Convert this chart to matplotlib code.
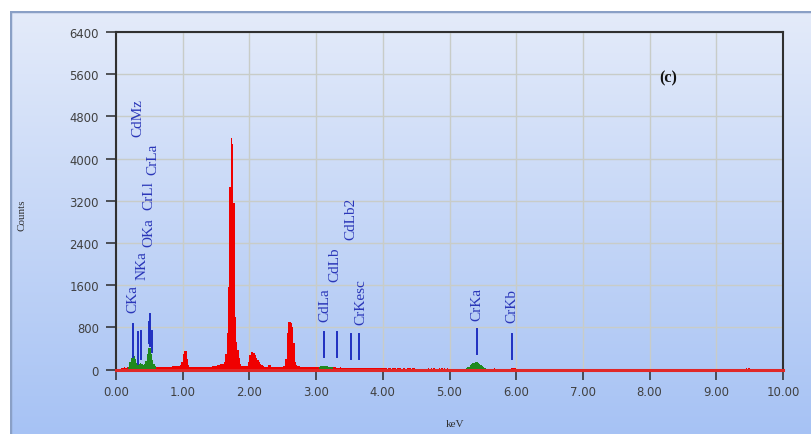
import numpy as np
import matplotlib
matplotlib.use('Agg')
import matplotlib.pyplot as plt
from matplotlib.patches import Rectangle

# EDS spectrum, 0.02 keV channels starting at 0.00 keV
channel_keV = 0.02
counts = [
    0, 0, 0, 0, 35, 40, 45, 40, 50, 60,               # 0.00
    150, 230, 280, 265, 200, 130, 110, 100, 130, 110,  # 0.20
    90, 100, 160, 300, 420, 410, 300, 180, 100, 70,    # 0.40
    50, 45, 45, 45, 45, 50, 45, 45, 50, 50,            # 0.60
    55, 60, 65, 65, 70, 70, 65, 70, 80, 150,           # 0.80
    300, 360, 350, 200, 90, 60, 55, 55, 55, 55,        # 1.00
    55, 55, 60, 55, 55, 60, 55, 55, 60, 60,            # 1.20
    60, 60, 65, 65, 70, 70, 80, 95, 100, 100,          # 1.40
    110, 140, 300, 700, 1560, 3460, 4390, 4270, 3150, 1000,  # 1.60
    520, 380, 220, 100, 75, 70, 70, 70, 75, 150,       # 1.80
    280, 330, 340, 310, 270, 230, 190, 150, 110, 80,   # 2.00
    70, 60, 55, 55, 90, 85, 55, 50, 50, 55,            # 2.20
    55, 55, 55, 60, 60, 65, 70, 200, 700, 900,         # 2.40
    910, 880, 800, 500, 150, 90, 70, 65, 60, 60,       # 2.60
    60, 55, 55, 60, 55, 50, 55, 50, 50, 55,            # 2.80
    55, 50, 55, 65, 70, 75, 75, 70, 65, 60,            # 3.00
    60, 55, 50, 45, 45, 40, 40, 40, 45, 40,            # 3.20
    40, 35, 40, 40, 35, 40, 40, 35, 40, 40,            # 3.40
    35, 40, 35, 40, 35, 35, 40, 35, 35, 40,            # 3.60
    35, 35, 40, 35, 30, 35, 40, 35, 30, 35,            # 3.80
    40, 30, 35, 0, 40, 35, 0, 30, 40, 35,              # 4.00
    0, 35, 30, 40, 0, 35, 30, 0, 40, 30,               # 4.20
    35, 0, 30, 40, 0, 0, 0, 0, 0, 0,                   # 4.40
    0, 0, 0, 0, 35, 0, 30, 0, 35, 0,                   # 4.60
    0, 0, 35, 0, 30, 0, 35, 0, 30, 0,                  # 4.80
    0, 0, 0, 0, 0, 0, 0, 0, 0, 0,                      # 5.00
    0, 0, 40, 50, 60, 80, 100, 120, 135, 140,          # 5.20
    140, 135, 115, 90, 70, 50, 40, 0, 0, 0,            # 5.40
    0, 0, 0, 25, 0, 0, 0, 0, 0, 0,                     # 5.60
    0, 0, 0, 0, 0, 0, 35, 40, 40, 35,                  # 5.80
]
tail_keV = [9.44, 9.48]
tail_counts = [30, 30]

# regions of interest shaded green
roi_lo = [0.18, 3.04, 5.24]
roi_hi = [0.60, 3.26, 5.54]

# peak identification markers
peak_names = ['CKa', 'CdMz', 'NKa', 'OKa', 'CrLl', 'CrLa',
              'CdLa', 'CdLb', 'CdLb2', 'CrKesc', 'CrKa', 'CrKb']
peak_keV = [0.26, 0.33, 0.38, 0.505, 0.49, 0.545,
            3.12, 3.32, 3.53, 3.65, 5.41, 5.94]
mark_lo = [240, 110, 200, 450, 500, 335, 235, 235, 200, 200, 300, 200]
mark_hi = [865, 714, 733, 1050, 900, 733, 710, 710, 680, 680, 770, 680]
label_keV = [0.26, 0.335, 0.385, 0.495, 0.495, 0.555,
             3.13, 3.28, 3.52, 3.67, 5.41, 5.94]
label_cnt = [1090, 4420, 1720, 2340, 3040, 3700,
             930, 1690, 2470, 865, 950, 900]

x_ticks = np.arange(0, 10.01, 1.0)
y_ticks = np.arange(0, 6401, 800)

W, H = 811, 435
fig = plt.figure(figsize=(W / 100, H / 100), dpi=100)
fig.patch.set_facecolor('white')

# panel background with vertical gradient; right and bottom edges run off the canvas
bg = fig.add_axes([10 / W, -4 / H, (W - 6) / W, (H - 8) / H])
grad = np.linspace(0, 1, 256)[:, None]
top_c = np.array([0xe4, 0xeb, 0xfa]) / 255
bot_c = np.array([0xa6, 0xc2, 0xf4]) / 255
img = top_c[None, None, :] * (1 - grad[:, :, None]) + bot_c[None, None, :] * grad[:, :, None]
bg.imshow(img, aspect='auto', extent=[0, 1, 0, 1], interpolation='bilinear')
bg.add_patch(Rectangle((0, 0), 1, 1, transform=bg.transAxes, fill=False,
                       edgecolor='#8aa0c6', linewidth=2.5, clip_on=True))
bg.set_xlim(0, 1)
bg.set_ylim(0, 1)
bg.axis('off')

ax = fig.add_axes([116 / W, (H - 370.7) / H, 667 / W, 337.7 / H])
ax.set_facecolor('none')

spec = np.zeros(500)
spec[:len(counts)] = counts
for e, c in zip(tail_keV, tail_counts):
    spec[int(round(e / channel_keV))] = c
edges = np.arange(len(spec) + 1) * channel_keV
starts = edges[:-1]
in_roi = np.zeros(len(spec), dtype=bool)
for lo, hi in zip(roi_lo, roi_hi):
    in_roi |= (starts + 1e-9 >= lo) & (starts + 1e-9 < hi)

ax.stairs(spec, edges, fill=True, color='#f00000', linewidth=0, zorder=3)
ax.stairs(np.where(in_roi, spec, 0), edges, fill=True, color='#1f8a1f',
          linewidth=0, zorder=3.5)

for e, lo, hi in zip(peak_keV, mark_lo, mark_hi):
    ax.plot([e, e], [lo, hi], color='#1f2fc0', linewidth=1.4, zorder=4)
for name, e, c in zip(peak_names, label_keV, label_cnt):
    ax.text(e, c, name, rotation=90, ha='center', va='bottom',
            color='#2a36b8', fontsize=11, family='Liberation Serif', zorder=5)

ax.text(8.28, 5540, '(c)', ha='center', va='center', fontsize=11.5,
        fontweight='bold', family='Liberation Serif', color='#111111')

ax.set_xlim(0, 10)
ax.set_ylim(0, 6400)
ax.set_xticks(x_ticks)
ax.set_yticks(y_ticks)
ax.set_xticklabels(['%.2f' % v for v in x_ticks])
ax.set_yticklabels(['%d' % v for v in y_ticks])
ax.grid(True, color='#c8ccc8', linewidth=1.0, zorder=0)
ax.set_axisbelow(True)
ax.tick_params(axis='both', direction='out', length=7.2, width=1.1,
               color='#2a2a2a', labelsize=8.4, labelcolor='#404040')
ax.tick_params(axis='y', pad=5)
ax.tick_params(axis='x', pad=4)
for s in ['top', 'left', 'right']:
    ax.spines[s].set_color('#303030')
    ax.spines[s].set_linewidth(1.5)
ax.spines['bottom'].set_color('#e02828')
ax.spines['bottom'].set_linewidth(2.2)
ax.spines['bottom'].set_zorder(6)

fig.text(22 / W, 1 - 215 / H, 'Counts', rotation=90, ha='center', va='center',
         fontsize=8, family='Liberation Serif', color='#303030')
fig.text(455 / W, 1 - 425 / H, 'keV', ha='center', va='center',
         fontsize=8, family='Liberation Serif', color='#303030')

fig.savefig('out.png', dpi=100)
